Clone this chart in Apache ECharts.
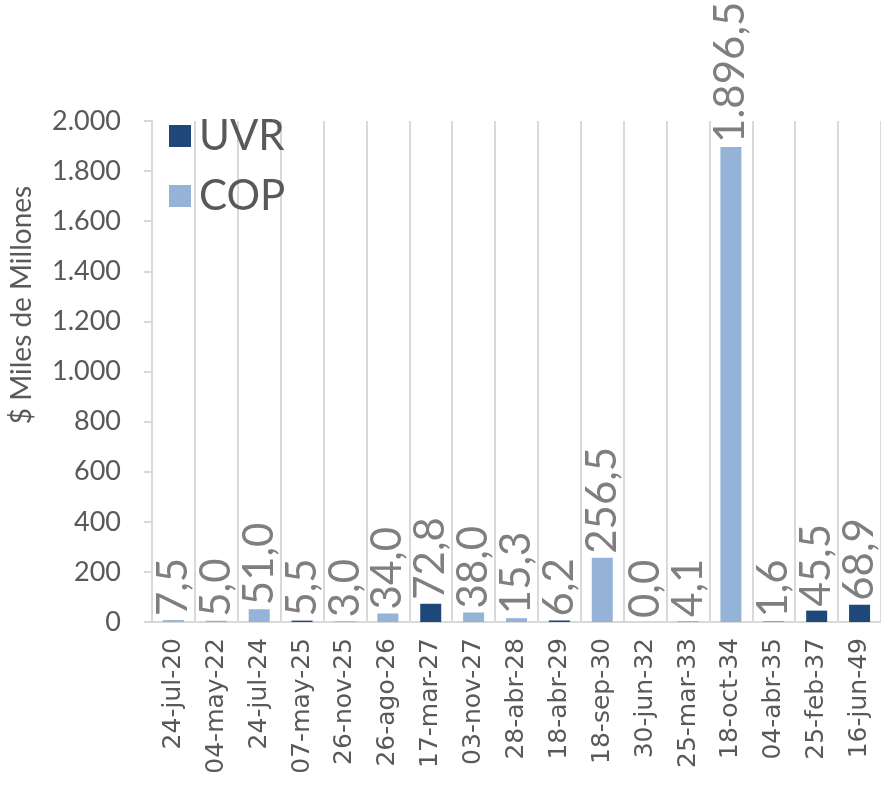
<!DOCTYPE html>
<html>
<head>
<meta charset="utf-8">
<script src="https://cdn.jsdelivr.net/npm/echarts@6/dist/echarts.min.js"></script>
<style>html,body{margin:0;padding:0;background:#fff}#c{width:881px;height:809px}</style>
</head>
<body>
<div id="c"></div>
<script>
var categories = ['24-jul-20','04-may-22','24-jul-24','07-may-25','26-nov-25','26-ago-26','17-mar-27','03-nov-27','28-abr-28','18-abr-29','18-sep-30','30-jun-32','25-mar-33','18-oct-34','04-abr-35','25-feb-37','16-jun-49'];
var uvrValues = [null, null, null, 5.5, null, null, 72.8, null, null, 6.2, null, null, null, null, 1.6, 45.5, 68.9];
var copValues = [7.5, 5.0, 51.0, null, 3.0, 34.0, null, 38.0, 15.3, null, 256.5, 0.0, 4.1, 1896.5, null, null, null];
var yTicks = [0, 200, 400, 600, 800, 1000, 1200, 1400, 1600, 1800, 2000];

function fmt(v) {
  var s = v.toFixed(1).split('.');
  var intPart = s[0].replace(/\B(?=(\d{3})+(?!\d))/g, '.');
  return intPart + ',' + s[1];
}
function fmtTick(v) {
  return String(v).replace(/\B(?=(\d{3})+(?!\d))/g, '.');
}

var FONT = 'Lato';
var labelCfg = {
  show: true,
  position: 'top',
  rotate: 90,
  align: 'left',
  verticalAlign: 'middle',
  distance: 4,
  fontFamily: FONT,
  fontSize: 42,
  color: '#7f7f7f',
  formatter: function (p) { return p.value == null ? '' : fmt(p.value); }
};

var chart = echarts.init(document.getElementById('c'), null, {renderer: 'canvas'});
chart.setOption({
  animation: false,
  backgroundColor: '#ffffff',
  grid: {left: 152, right: 0, top: 121, bottom: 187, containLabel: false},
  legend: {
    orient: 'vertical',
    left: 164,
    top: 109,
    itemWidth: 22,
    itemHeight: 22,
    itemGap: 16,
    icon: 'rect',
    textStyle: {fontFamily: FONT, fontSize: 42, color: '#595959', lineHeight: 44, padding: [0, 0, 0, 3]},
    data: ['UVR', 'COP']
  },
  xAxis: {
    type: 'category',
    data: categories,
    boundaryGap: true,
    axisLine: {show: true, lineStyle: {color: '#d9d9d9', width: 2}},
    axisTick: {show: false},
    splitLine: {show: true, interval: 0, lineStyle: {color: '#d9d9d9', width: 2}},
    axisLabel: {interval: 0, rotate: 90, margin: 16, fontFamily: 'DejaVu Sans', fontSize: 25, color: '#595959'}
  },
  yAxis: {
    type: 'value',
    min: 0,
    max: 2000,
    interval: 200,
    axisLine: {show: true, lineStyle: {color: '#d9d9d9', width: 2}},
    axisTick: {show: true, inside: false, length: 8, lineStyle: {color: '#d9d9d9', width: 2}},
    splitLine: {show: false},
    axisLabel: {fontFamily: FONT, fontSize: 27, color: '#595959', margin: 31,
      formatter: function (v) { return yTicks.indexOf(v) >= 0 ? fmtTick(v) : ''; }}
  },
  graphic: [{
    type: 'text',
    x: 22, y: 305,
    rotation: Math.PI / 2,
    style: {text: '$ Miles de Millones', font: '28px ' + FONT, fill: '#595959', textAlign: 'center', textVerticalAlign: 'middle'}
  }],
  series: [
    {name: 'UVR', type: 'bar', stack: 't', data: uvrValues, barWidth: 21, itemStyle: {color: '#1f477a'}, label: labelCfg},
    {name: 'COP', type: 'bar', stack: 't', data: copValues, barWidth: 21, itemStyle: {color: '#95b3d7'}, label: labelCfg}
  ]
});
</script>
</body>
</html>
